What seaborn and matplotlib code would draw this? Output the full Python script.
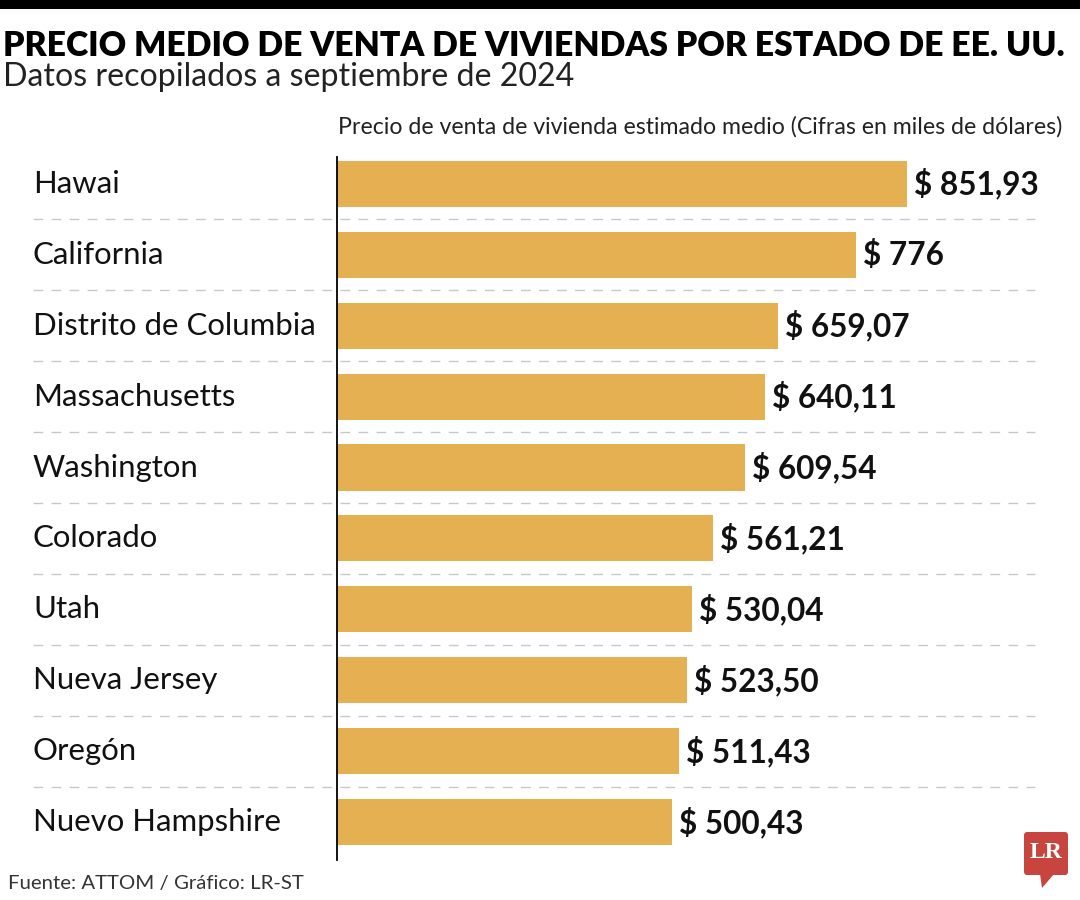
import matplotlib
matplotlib.use("Agg")
import matplotlib.pyplot as plt
import seaborn as sns
import pandas as pd
from matplotlib.patches import FancyBboxPatch, Polygon

states = ["Hawai", "California", "Distrito de Columbia", "Massachusetts", "Washington",
          "Colorado", "Utah", "Nueva Jersey", "Oregón", "Nuevo Hampshire"]
prices = [851.93, 776, 659.07, 640.11, 609.54, 561.21, 530.04, 523.50, 511.43, 500.43]
value_labels = ["$ 851,93", "$ 776", "$ 659,07", "$ 640,11", "$ 609,54",
                "$ 561,21", "$ 530,04", "$ 523,50", "$ 511,43", "$ 500,43"]

title = "PRECIO MEDIO DE VENTA DE VIVIENDAS POR ESTADO DE EE. UU."
subtitle = "Datos recopilados a septiembre de 2024"
axis_title = "Precio de venta de vivienda estimado medio (Cifras en miles de dólares)"
source = "Fuente: ATTOM / Gráfico: LR-ST"

df = pd.DataFrame({"state": states, "price": prices})

sns.set_theme(style="white")
plt.rcParams['font.family'] = ['Lato', 'DejaVu Sans']

W, H = 1080, 900
fig = plt.figure(figsize=(W / 100, H / 100), dpi=100)
left_px, right_px, top_px, bot_px = 337, 1035, 157, 860
ax = fig.add_axes([left_px / W, 1 - bot_px / H, (right_px - left_px) / W, (bot_px - top_px) / H])

bar_color = "#E5B052"
sns.barplot(data=df, x="price", y="state", color=bar_color, width=0.65,
            saturation=1, ax=ax, edgecolor="none")

ax.set_xlim(0, 1043)
ax.set_ylim(9.536, -0.38)
for s in ["top", "right", "bottom"]:
    ax.spines[s].set_visible(False)
ax.spines["left"].set_color("black")
ax.spines["left"].set_linewidth(1.3)
ax.set_xticks([])
ax.set_yticks([])
ax.set_xlabel("")
ax.set_ylabel("")

# dashed separators
xmin_frac = (33 - left_px) / (right_px - left_px)
for i in range(len(states) - 1):
    ax.axhline(i + 0.5, xmin=xmin_frac, xmax=1.0, color="#c8c8c8", lw=1.0,
               ls=(0, (7, 6)), clip_on=False, zorder=0)

# state labels
for i, s in enumerate(states):
    ax.text(xmin_frac, i, s, transform=ax.get_yaxis_transform(), ha="left", va="center",
            fontsize=22.4, fontweight="normal", color="#111111")

# value labels
for i, (v, lab) in enumerate(zip(prices, value_labels)):
    ax.annotate(lab, (v, i), xytext=(7, 0), textcoords="offset pixels", ha="left",
                va="center", fontsize=22.7, fontweight="bold", color="#111111")

# top rule
fig.add_artist(plt.Line2D([0, 1], [1 - 4 / H, 1 - 4 / H], color="black", lw=6.5))

fig.text(3 / W, 1 - 46 / H, title, fontsize=24.3, fontweight="heavy", ha="left",
         va="center", color="black")
fig.text(3 / W, 1 - 77 / H, subtitle, fontsize=23.1, fontweight="normal", ha="left",
         va="center", color="#222222")
fig.text(338 / W, 1 - 127 / H, axis_title, fontsize=16.7, fontweight="normal",
         ha="left", va="center", color="#222222")
fig.text(8 / W, 1 - 883 / H, source, fontsize=14.7, fontweight="normal", ha="left",
         va="center", color="#333333")

# LR logo
logo_ax = fig.add_axes([0, 0, 1, 1], facecolor="none")
logo_ax.set_xlim(0, W)
logo_ax.set_ylim(H, 0)
logo_ax.axis("off")
logo_ax.add_patch(FancyBboxPatch((1024, 832), 44, 43, boxstyle="round,pad=0,rounding_size=3",
                                 fc="#C8453F", ec="none"))
logo_ax.add_patch(Polygon([[1040, 874], [1054, 874], [1042, 888]], closed=True,
                          fc="#C8453F", ec="none"))
logo_ax.text(1046, 853, "LR", ha="center", va="center", color="white", fontsize=17,
             fontweight="bold", family=["Liberation Serif", "DejaVu Serif"])

fig.savefig("out.png", dpi=100)
